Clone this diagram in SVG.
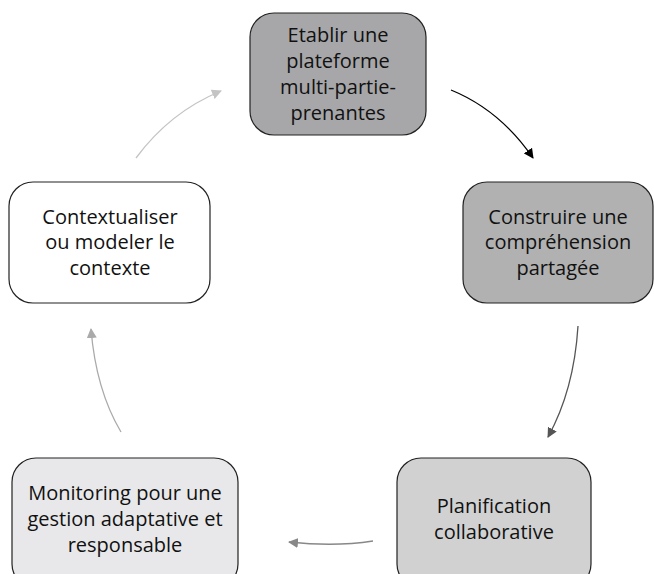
<svg xmlns="http://www.w3.org/2000/svg" width="654" height="574" viewBox="0 0 654 574">
<style>
  .box { stroke: #222; stroke-width: 1.2; }
  .lbl { font-family: "Open Sans", "Noto Sans", sans-serif; font-size: 20px; fill: #111; text-anchor: middle; }
  .c { fill: none; stroke-width: 1.3; }
</style>
<defs>
  <marker id="a1" viewBox="0 0 10 10" refX="9" refY="5" markerWidth="10" markerHeight="10" orient="auto" markerUnits="userSpaceOnUse"><path d="M0,0 L10,5 L0,10 z" fill="#000"/></marker>
  <marker id="a2" viewBox="0 0 10 10" refX="9" refY="5" markerWidth="10" markerHeight="10" orient="auto" markerUnits="userSpaceOnUse"><path d="M0,0 L10,5 L0,10 z" fill="#555"/></marker>
  <marker id="a3" viewBox="0 0 10 10" refX="9" refY="5" markerWidth="10" markerHeight="10" orient="auto" markerUnits="userSpaceOnUse"><path d="M0,0 L10,5 L0,10 z" fill="#888"/></marker>
  <marker id="a4" viewBox="0 0 10 10" refX="9" refY="5" markerWidth="10" markerHeight="10" orient="auto" markerUnits="userSpaceOnUse"><path d="M0,0 L10,5 L0,10 z" fill="#aaa"/></marker>
  <marker id="a5" viewBox="0 0 10 10" refX="9" refY="5" markerWidth="10" markerHeight="10" orient="auto" markerUnits="userSpaceOnUse"><path d="M0,0 L10,5 L0,10 z" fill="#c4c4c4"/></marker>
</defs>
<rect width="654" height="574" fill="#fff"/>
<g id="connectors">
  <path class="c" d="M451,90 Q500,110 533,158" stroke="#000" marker-end="url(#a1)"/>
  <path class="c" d="M578,326 Q574,390 548,437" stroke="#555" marker-end="url(#a2)"/>
  <path class="c" d="M373,541 Q335,547 289,542" stroke="#888" marker-end="url(#a3)"/>
  <path class="c" d="M121,432 Q96,390 91,329" stroke="#aaa" marker-end="url(#a4)"/>
  <path class="c" d="M136,158 Q170,112 221,91" stroke="#c4c4c4" marker-end="url(#a5)"/>
</g>
<g id="n1">
  <rect class="box" x="250" y="13" width="176" height="122" rx="24" fill="#a7a7a9"/>
  <text class="lbl" x="338" y="42">Etablir une</text>
  <text class="lbl" x="338" y="68">plateforme</text>
  <text class="lbl" x="338" y="94">multi-partie-</text>
  <text class="lbl" x="338" y="120">prenantes</text>
</g>
<g id="n2">
  <rect class="box" x="463" y="182" width="190" height="121" rx="24" fill="#b1b1b1"/>
  <text class="lbl" x="558" y="224">Construire une</text>
  <text class="lbl" x="558" y="249">compréhension</text>
  <text class="lbl" x="558" y="275">partagée</text>
</g>
<g id="n3">
  <rect class="box" x="397" y="458" width="194" height="130" rx="24" fill="#d1d1d2"/>
  <text class="lbl" x="494" y="513">Planification</text>
  <text class="lbl" x="494" y="539">collaborative</text>
</g>
<g id="n4">
  <rect class="box" x="12" y="458" width="226" height="130" rx="24" fill="#e8e8ea"/>
  <text class="lbl" x="125" y="500">Monitoring pour une</text>
  <text class="lbl" x="125" y="526">gestion adaptative et</text>
  <text class="lbl" x="125" y="552">responsable</text>
</g>
<g id="n5">
  <rect class="box" x="9" y="182" width="201" height="121" rx="24" fill="#fff"/>
  <text class="lbl" x="110" y="224">Contextualiser</text>
  <text class="lbl" x="110" y="249">ou modeler le</text>
  <text class="lbl" x="110" y="275">contexte</text>
</g>
</svg>
